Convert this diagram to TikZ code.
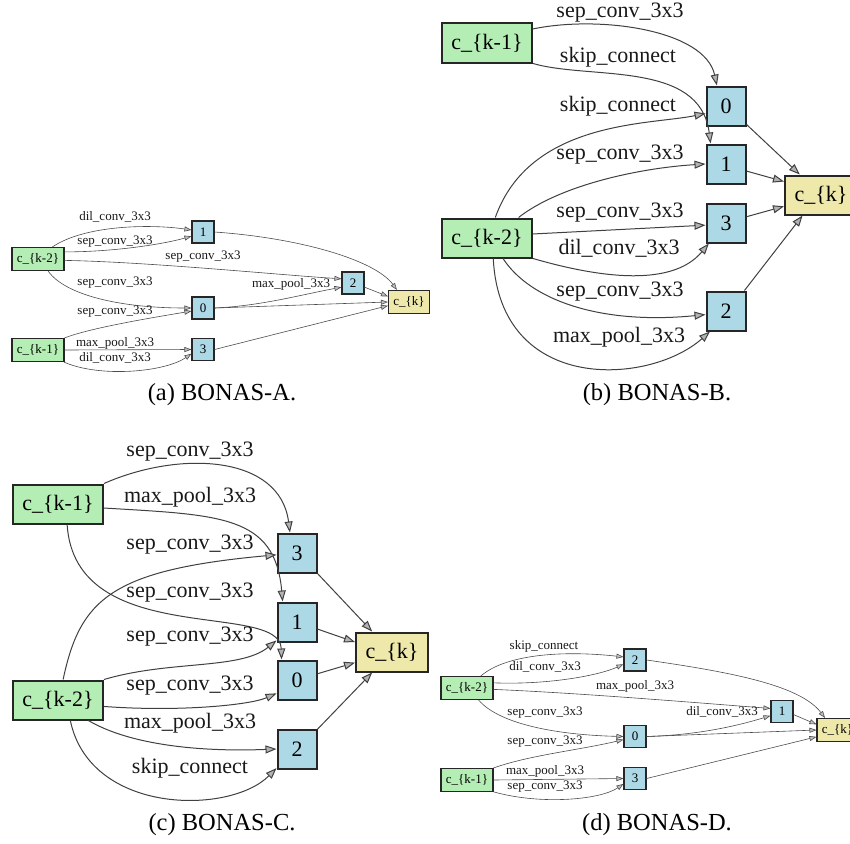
\documentclass[tikz,border=0pt]{standalone}
\usepackage{fontspec}
\setmainfont{Liberation Serif}
\usetikzlibrary{arrows.meta}
\definecolor{ingreen}{HTML}{B4EEB4}
\definecolor{midblue}{HTML}{ADD8E6}
\definecolor{outyellow}{HTML}{EEE8AA}

\begin{document}
\begin{tikzpicture}[x=1pt, y=-1pt,
inbig/.style={rectangle, draw=black!85, fill=ingreen, line width=2pt, minimum width=90pt, minimum height=39pt, inner sep=0pt, font=\fontsize{22}{24}\selectfont},
midbig/.style={rectangle, draw=black!85, fill=midblue, line width=2pt, minimum size=39pt, inner sep=0pt, font=\fontsize{22}{24}\selectfont},
outbig/.style={rectangle, draw=black!85, fill=outyellow, line width=2pt, minimum width=72pt, minimum height=39pt, inner sep=0pt, font=\fontsize{22}{24}\selectfont},
insmall/.style={rectangle, draw=black!85, fill=ingreen, line width=1.1pt, minimum width=52pt, minimum height=23pt, inner sep=0pt, font=\fontsize{13}{15}\selectfont},
midsmall/.style={rectangle, draw=black!85, fill=midblue, line width=1.1pt, minimum size=22pt, inner sep=0pt, font=\fontsize{13}{15}\selectfont},
outsmall/.style={rectangle, draw=black!85, fill=outyellow, line width=1.1pt, minimum width=41pt, minimum height=23pt, inner sep=0pt, font=\fontsize{13}{15}\selectfont},
opbig/.style={inner sep=0pt, text=black!90, font=\fontsize{22}{24}\selectfont},
opsmall/.style={inner sep=0pt, text=black!90, font=\fontsize{13}{15}\selectfont},
edgebig/.style={draw=black!75, line width=1pt, -{Triangle[length=11pt,width=8pt,fill=black!30]}},
edgesmall/.style={draw=black!70, line width=0.6pt, -{Triangle[length=7pt,width=5pt,fill=black!25]}},
captext/.style={inner sep=0pt, font=\fontsize{24.5}{26}\selectfont},
]
\useasboundingbox (0,0) rectangle (850,843);

%Nodes (a)
\node[insmall] (inA2) at (38,259) {c\_\{k-2\}};
\node[insmall] (inA1) at (38,350) {c\_\{k-1\}};
\node[midsmall] (midA1) at (203,232) {1};
\node[midsmall] (midA2) at (353,283) {2};
\node[midsmall] (midA0) at (203,308) {0};
\node[midsmall] (midA3) at (203,349.5) {3};
\node[outsmall] (outA) at (409,302) {c\_\{k\}};

%Lines (a)
\draw[edgesmall] (inA2.40) .. controls (85,225) and (150,224) .. (midA1.170);
\draw[edgesmall] (inA2.15) .. controls (110,252) and (160,245) .. (midA1.200);
\draw[edgesmall] (inA2.-3) .. controls (150,262) and (280,275) .. (midA2.160);
\draw[edgesmall] (inA2.-50) .. controls (65,295) and (120,308) .. (midA0.west);
\draw[edgesmall] (inA1.north east) .. controls (90,328) and (150,318) .. (midA0.195);
\draw[edgesmall] (inA1.east) -- (midA3.west);
\draw[edgesmall] (inA1.-25) .. controls (100,378) and (165,372) .. (midA3.200);
\draw[edgesmall] (midA0.east) .. controls (260,306) and (300,295) .. (midA2.200);
\draw[edgesmall] (midA1.east) .. controls (300,238) and (375,260) .. (outA.135);
\draw[edgesmall] (midA2.-20) -- (outA.165);
\draw[edgesmall] (midA0.east) -- (outA.west);
\draw[edgesmall] (midA3.east) -- (outA.190);

\node[opsmall] (laA1) at (115,217) {dil\_conv\_3x3};
\node[opsmall] (laA2) at (115,242) {sep\_conv\_3x3};
\node[opsmall] (laA3) at (203,257) {sep\_conv\_3x3};
\node[opsmall] (laA4) at (115,283) {sep\_conv\_3x3};
\node[opsmall] (laA5) at (115,312) {sep\_conv\_3x3};
\node[opsmall] (laA6) at (115,343) {max\_pool\_3x3};
\node[opsmall] (laA7) at (115,358) {dil\_conv\_3x3};
\node[opsmall] (laA8) at (291,284) {max\_pool\_3x3};

%Nodes (b)
\node[inbig] (inB1) at (487,43) {c\_\{k-1\}};
\node[inbig] (inB2) at (487,238) {c\_\{k-2\}};
\node[midbig] (midB0) at (726,106) {0};
\node[midbig] (midB1) at (726,164) {1};
\node[midbig] (midB3) at (726,223) {3};
\node[midbig] (midB2) at (726,311) {2};
\node[outbig] (outB) at (821,195) {c\_\{k\}};

%Lines (b)
\draw[edgebig] (inB1.17) .. controls (600,15) and (705,30) .. (midB0.114);
\draw[edgebig] (inB1.south east) .. controls (590,80) and (700,60) .. (midB1.127);
\draw[edgebig] (inB2.68) .. controls (530,120) and (650,125) .. (midB0.200);
\draw[edgebig] (inB2.33) .. controls (560,185) and (640,168) .. (midB1.west);
\draw[edgebig] (inB2.5) -- (midB3.186);
\draw[edgebig] (inB2.south east) .. controls (590,275) and (670,290) .. (midB3.230);
\draw[edgebig] (inB2.-52) .. controls (530,300) and (600,325) .. (midB2.190);
\draw[edgebig] (inB2.-73) .. controls (500,395) and (650,385) .. (midB2.232);
\draw[edgebig] (midB0.-42) -- (outB.136);
\draw[edgebig] (midB1.-19) -- (outB.160);
\draw[edgebig] (midB3.17) -- (outB.197);
\draw[edgebig] (midB2.48) -- (outB.228);

\node[opbig] (laB1) at (620,13) {sep\_conv\_3x3};
\node[opbig] (laB2) at (618,57) {skip\_connect};
\node[opbig] (laB3) at (618,106) {skip\_connect};
\node[opbig] (laB4) at (620,155) {sep\_conv\_3x3};
\node[opbig] (laB5) at (620,213) {sep\_conv\_3x3};
\node[opbig] (laB6) at (619,248) {dil\_conv\_3x3};
\node[opbig] (laB7) at (620,292) {sep\_conv\_3x3};
\node[opbig] (laB8) at (619,337) {max\_pool\_3x3};

%Nodes (c)
\node[inbig] (inC1) at (58,504) {c\_\{k-1\}};
\node[inbig] (inC2) at (58,700) {c\_\{k-2\}};
\node[midbig] (midC3) at (297,553) {3};
\node[midbig] (midC1) at (297,622) {1};
\node[midbig] (midC0) at (297,680) {0};
\node[midbig] (midC2) at (297,749) {2};
\node[outbig] (outC) at (392,652) {c\_\{k\}};

%Lines (c)
\draw[edgebig] (inC1.north east) .. controls (180,450) and (280,455) .. (midC3.109);
\draw[edgebig] (inC1.-5) .. controls (220,515) and (275,515) .. (midC1.125);
\draw[edgebig] (inC2.76) .. controls (80,600) and (110,570) .. (midC3.185);
\draw[edgebig] (inC1.-66) .. controls (75,650) and (280,600) .. (midC0.127);
\draw[edgebig] (inC2.north east) .. controls (170,660) and (240,670) .. (midC1.222);
\draw[edgebig] (inC2.-8) .. controls (180,712) and (250,705) .. (midC0.213);
\draw[edgebig] (inC2.-34) .. controls (130,745) and (200,752) .. (midC2.west);
\draw[edgebig] (inC2.-59) .. controls (90,815) and (230,815) .. (midC2.223);
\draw[edgebig] (midC3.-45) -- (outC.134);
\draw[edgebig] (midC1.-19) -- (outC.165);
\draw[edgebig] (midC0.17) -- (outC.196);
\draw[edgebig] (midC2.44) -- (outC.226);

\node[opbig] (laC1) at (190,452) {sep\_conv\_3x3};
\node[opbig] (laC2) at (190,497) {max\_pool\_3x3};
\node[opbig] (laC3) at (190,545) {sep\_conv\_3x3};
\node[opbig] (laC4) at (190,593) {sep\_conv\_3x3};
\node[opbig] (laC5) at (190,637) {sep\_conv\_3x3};
\node[opbig] (laC6) at (190,686) {sep\_conv\_3x3};
\node[opbig] (laC7) at (190,723) {max\_pool\_3x3};
\node[opbig] (laC8) at (190,768) {skip\_connect};

%Nodes (d)
\node[insmall] (inD2) at (467,688) {c\_\{k-2\}};
\node[insmall] (inD1) at (467,780) {c\_\{k-1\}};
\node[midsmall] (midD2) at (635,660) {2};
\node[midsmall] (midD1) at (782,711.5) {1};
\node[midsmall] (midD0) at (635,736.5) {0};
\node[midsmall] (midD3) at (635,778.5) {3};
\node[outsmall] (outD) at (837.5,730) {c\_\{k\}};

%Lines (d)
\draw[edgesmall] (inD2.41) .. controls (505,655) and (560,650) .. (midD2.165);
\draw[edgesmall] (inD2.11) .. controls (550,685) and (600,675) .. (midD2.200);
\draw[edgesmall] (inD2.-3) .. controls (580,693) and (700,703) .. (midD1.165);
\draw[edgesmall] (inD2.-46) .. controls (500,725) and (560,735) .. (midD0.west);
\draw[edgesmall] (inD1.north east) .. controls (530,755) and (580,750) .. (midD0.195);
\draw[edgesmall] (inD1.east) -- (midD3.west);
\draw[edgesmall] (inD1.-24) .. controls (540,805) and (600,800) .. (midD3.205);
\draw[edgesmall] (midD0.east) .. controls (700,735) and (740,725) .. (midD1.200);
\draw[edgesmall] (midD2.east) .. controls (730,672) and (800,685) .. (outD.136);
\draw[edgesmall] (midD1.-15) -- (outD.165);
\draw[edgesmall] (midD0.east) -- (outD.west);
\draw[edgesmall] (midD3.east) -- (outD.198);

\node[opsmall] (laD1) at (544,646) {skip\_connect};
\node[opsmall] (laD2) at (545,667) {dil\_conv\_3x3};
\node[opsmall] (laD3) at (635,686) {max\_pool\_3x3};
\node[opsmall] (laD4) at (545,713) {sep\_conv\_3x3};
\node[opsmall] (laD5) at (545,742) {sep\_conv\_3x3};
\node[opsmall] (laD6) at (545,771) {max\_pool\_3x3};
\node[opsmall] (laD7) at (545,787) {sep\_conv\_3x3};
\node[opsmall] (laD8) at (722,712) {dil\_conv\_3x3};

%Captions
\node[captext] (capA) at (222,395) {(a) BONAS-A.};
\node[captext] (capB) at (657,395) {(b) BONAS-B.};
\node[captext] (capC) at (222,825) {(c) BONAS-C.};
\node[captext] (capD) at (657,825) {(d) BONAS-D.};
\end{tikzpicture}
\end{document}
